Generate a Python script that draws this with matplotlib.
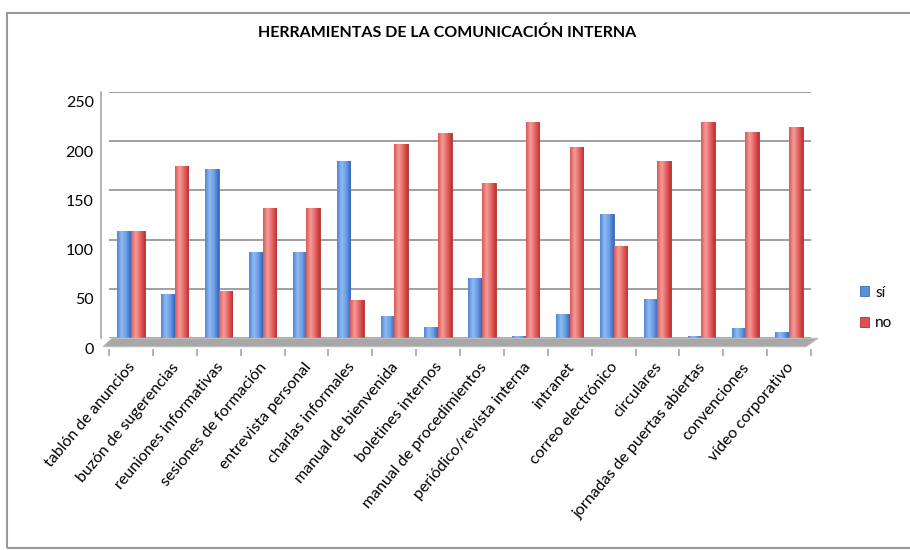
import matplotlib
matplotlib.use("Agg")
import matplotlib.pyplot as plt
import matplotlib.transforms as mtransforms
from matplotlib.patches import Rectangle, Polygon
from matplotlib.colors import LinearSegmentedColormap
import numpy as np

categories = ["tablón de anuncios", "buzón de sugerencias", "reuniones informativas",
              "sesiones de formación", "entrevista personal", "charlas informales",
              "manual de bienvenida", "boletines internos", "manual de procedimientos",
              "periódico/revista interna", "intranet", "correo electrónico", "circulares",
              "jornadas de puertas abiertas", "convenciones", "vídeo corporativo"]
si_values = [109, 45, 172, 87, 87, 180, 23, 11, 61, 2, 25, 126, 40, 2, 10, 6]
no_values = [109, 175, 48, 132, 132, 39, 197, 208, 157, 219, 194, 94, 180, 219, 209, 214]
series_names = ["sí", "no"]
yticks = [0, 50, 100, 150, 200, 250]
title = "HERRAMIENTAS DE LA COMUNICACIÓN INTERNA"

plt.rcParams['font.family'] = ['Lato', 'DejaVu Sans']

W, H = 910, 550
fig = plt.figure(figsize=(W / 100, H / 100), dpi=100)
fig.patch.set_facecolor("white")

# axes matched to the back wall of the reference
ax_l, ax_r, ax_t, ax_b = 109, 811, 91.7, 338.3
ax = fig.add_axes([ax_l / W, 1 - ax_b / H, (ax_r - ax_l) / W, (ax_b - ax_t) / H])
ax.set_facecolor("none")

# spines first (set_position resets ticks)
for s in ["top", "right"]:
    ax.spines[s].set_visible(False)
ax.spines["left"].set_position(("outward", 6))
ax.spines["left"].set_color("#A6A6A6")
ax.spines["left"].set_linewidth(1.2)
ax.spines["bottom"].set_position(("outward", 8))
ax.spines["bottom"].set_visible(False)

x = np.arange(len(categories))
bw = 0.31
bars_si = ax.bar(x - bw / 2, si_values, bw, color="#5A8FDA", edgecolor="#3C6BB5",
                 linewidth=0.6, label=series_names[0], zorder=3)
bars_no = ax.bar(x + bw / 2, no_values, bw, color="#E0504F", edgecolor="#A93434",
                 linewidth=0.6, label=series_names[1], zorder=3)

# gradient shading on bars
cm_blue = LinearSegmentedColormap.from_list("b", ["#4F84D3", "#8EBBF2", "#6A9DE3", "#3566BE"])
cm_red = LinearSegmentedColormap.from_list("r", ["#DA5856", "#F49C99", "#E56462", "#BE3232"])
grad = np.linspace(0, 1, 64).reshape(1, -1)
for bars, cm in ((bars_si, cm_blue), (bars_no, cm_red)):
    for b in bars:
        x0, w, h = b.get_x(), b.get_width(), b.get_height()
        if h <= 0:
            continue
        im = ax.imshow(grad, extent=[x0, x0 + w, 0, h], aspect="auto", cmap=cm,
                       zorder=3.5, interpolation="bilinear")
        im.set_clip_path(b)
ax.set_xlim(-0.5, len(categories) - 0.5)
ax.set_ylim(0, 250)

# gridlines (back wall)
ax.set_yticks(yticks)
ax.yaxis.grid(True, color="#8F8F8F", linewidth=1.2, zorder=0)
ax.set_axisbelow(True)
ax.tick_params(axis="y", length=0, pad=5, labelsize=11.5, colors="black")
ax.set_yticklabels([str(v) for v in yticks])
offset_y = mtransforms.ScaledTranslation(0, -10 / 100, fig.dpi_scale_trans)
for lab in ax.get_yticklabels():
    lab.set_transform(lab.get_transform() + offset_y)

# category separator ticks (front edge of floor)
ax.set_xticks(np.arange(-0.5, len(categories), 1), minor=True)
ax.tick_params(axis="x", which="minor", length=5, color="#A6A6A6", width=1.2)

# category labels
ax.set_xticks(x)
ax.set_xticklabels(categories, fontsize=11.5)
ax.tick_params(axis="x", which="major", length=0, pad=11)
offset_x = mtransforms.ScaledTranslation(2 / 100, 0, fig.dpi_scale_trans)
for lab in ax.get_xticklabels():
    lab.set_rotation(50)
    lab.set_ha("right")
    lab.set_va("center")
    lab.set_rotation_mode("anchor")
    lab.set_transform(lab.get_transform() + offset_x)

# floor of the 3D chart (decoration)
floor = Polygon([[103 / W, 1 - 346.7 / H], [806 / W, 1 - 346.7 / H],
                 [818 / W, 1 - 338.3 / H], [112 / W, 1 - 338.3 / H]],
                closed=True, transform=fig.transFigure, facecolor="#A8A8A8",
                edgecolor="#BDBDBD", linewidth=0.8, zorder=1)
fig.add_artist(floor)

# title
fig.text(447 / W, 1 - 33 / H, title, ha="center", va="center", fontsize=11.5,
         fontweight="bold")

# legend
leg = fig.legend(handles=[bars_si, bars_no], labels=series_names, loc="center left",
                 bbox_to_anchor=(860 / W, 1 - 308 / H), frameon=False, fontsize=11,
                 handlelength=0.6, handleheight=0.6, handletextpad=0.4,
                 labelspacing=1.1, borderaxespad=0, borderpad=0)

# outer border
fig.add_artist(Rectangle((7 / W, 2 / H), 1.05, 1 - 15 / H, transform=fig.transFigure,
                         fill=False, edgecolor="#999999", linewidth=1.5))

fig.savefig("out.png", dpi=100)
